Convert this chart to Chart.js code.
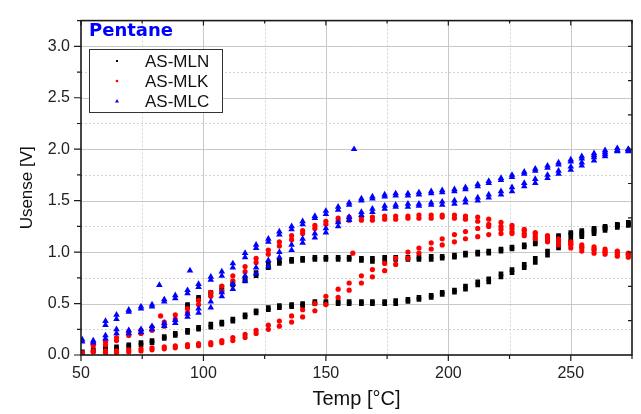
<!DOCTYPE html>
<html lang="en">
<head>
<meta charset="UTF-8">
<title>Pentane - Usense vs Temp</title>
<script src="https://cdn.jsdelivr.net/npm/chart.js"></script>
<style>
  html, body { margin: 0; padding: 0; background: #fff; }
  #wrap { width: 641px; height: 414px; position: relative; }
</style>
</head>
<body>
<div id="wrap"><canvas id="chart"></canvas></div>
<script>
// temperature steps of the sweep (°C)
const temps = [50.5, 55, 60, 64.5, 69.5, 74.5, 79, 84, 88.5, 93.5,
               98, 103, 107.5, 112, 117, 121.5, 126.5, 131, 136, 140.5,
               145.5, 150, 155, 159.5, 164.5, 169, 174, 178.5, 183.5, 188,
               193, 197.5, 202.5, 207, 212, 216.5, 221.5, 226, 231, 235.5,
               240.5, 245, 250, 254.5, 259.5, 264, 269, 273.5];

// AS-MLN, heating and cooling runs (V)
const mlnHeatA = [0.02, 0.04, 0.05, 0.06, 0.08, 0.10, 0.12, 0.16, 0.19, 0.22,
                  0.25, 0.27, 0.30, 0.33, 0.37, 0.41, 0.44, 0.46, 0.47, 0.48,
                  0.50, 0.50, 0.50, 0.50, 0.50, 0.50, 0.50, 0.50, 0.52, 0.54,
                  0.56, 0.59, 0.61, 0.64, 0.68, 0.71, 0.76, 0.80, 0.85, 0.90,
                  0.97, 1.04, 1.10, 1.15, 1.18, 1.21, 1.24, 1.26];
const mlnHeatB = [0.03, 0.05, 0.07, 0.08, 0.10, 0.12, 0.14, 0.18, 0.21, 0.24,
                  0.27, 0.30, 0.32, 0.35, 0.39, 0.43, 0.46, 0.48, 0.49, 0.50,
                  0.52, 0.52, 0.52, 0.52, 0.52, 0.52, 0.52, 0.53, 0.54, 0.56,
                  0.58, 0.61, 0.63, 0.67, 0.71, 0.74, 0.79, 0.83, 0.88, 0.94,
                  1.01, 1.08, 1.13, 1.17, 1.20, 1.23, 1.26, 1.28];
const mlnCoolA = [null, null, null, null, null, null, null, null, null, 0.47,
                  0.54, 0.59, 0.63, 0.68, 0.72, 0.77, 0.85, 0.89, 0.91, 0.92,
                  0.93, 0.93, 0.93, 0.93, 0.92, 0.91, 0.92, 0.93, 0.93, 0.93,
                  0.93, 0.94, 0.95, 0.97, 0.98, 0.99, 1.01, 1.03, 1.05, 1.08,
                  1.11, 1.14, 1.17, 1.19, 1.22, 1.24, 1.26, 1.27];
const mlnCoolB = [null, null, null, null, null, null, null, null, null, 0.49,
                  0.56, 0.61, 0.66, 0.70, 0.74, 0.80, 0.88, 0.91, 0.93, 0.94,
                  0.95, 0.95, 0.95, 0.95, 0.94, 0.94, 0.95, 0.95, 0.95, 0.95,
                  0.96, 0.96, 0.97, 0.99, 1.00, 1.01, 1.03, 1.05, 1.07, 1.10,
                  1.13, 1.16, 1.19, 1.21, 1.23, 1.25, 1.27, 1.29];

// AS-MLK
const mlkHeatA = [0.01, 0.03, 0.02, 0.02, 0.03, 0.04, 0.05, 0.06, 0.07, 0.08,
                  0.09, 0.10, 0.12, 0.14, 0.17, 0.21, 0.25, 0.28, 0.32, 0.37,
                  0.43, 0.49, 0.56, 0.63, 0.70, 0.76, 0.82, 0.88, 0.94, 0.99,
                  1.03, 1.07, 1.10, 1.13, 1.15, 1.17, 1.18, 1.18, 1.16, 1.13,
                  1.10, 1.07, 1.04, 1.01, 0.99, 0.98, 0.96, 0.95];
const mlkHeatB = [0.02, 0.04, 0.04, 0.04, 0.05, 0.06, 0.07, 0.08, 0.09, 0.10,
                  0.11, 0.12, 0.14, 0.17, 0.20, 0.24, 0.29, 0.33, 0.38, 0.44,
                  0.50, 0.57, 0.64, 0.70, 0.77, 0.83, 0.89, 0.94, 1.00, 1.04,
                  1.09, 1.13, 1.17, 1.20, 1.23, 1.25, 1.25, 1.23, 1.21, 1.18,
                  1.15, 1.11, 1.08, 1.05, 1.03, 1.01, 1.00, 0.98];
const mlkCoolA = [null, 0.09, 0.10, 0.14, 0.19, 0.21, 0.24, 0.28, 0.35, 0.41,
                  0.49, 0.57, 0.62, 0.72, 0.81, 0.90, 0.98, 1.06, 1.12, 1.18,
                  1.23, 1.27, 1.30, 1.31, 1.31, 1.31, 1.32, 1.32, 1.33, 1.33,
                  1.33, 1.34, 1.33, 1.32, 1.30, 1.27, 1.22, 1.20, 1.18, 1.15,
                  1.13, 1.10, 1.07, 1.04, 1.02, 1.00, 0.98, 0.97];
const mlkCoolB = [null, 0.11, 0.13, 0.17, 0.22, 0.24, 0.27, 0.32, 0.39, 0.45,
                  0.53, 0.61, 0.67, 0.77, 0.86, 0.94, 1.02, 1.10, 1.16, 1.21,
                  1.26, 1.30, 1.33, 1.34, 1.34, 1.34, 1.35, 1.35, 1.35, 1.36,
                  1.36, 1.36, 1.36, 1.35, 1.34, 1.32, 1.29, 1.26, 1.22, 1.19,
                  1.16, 1.13, 1.10, 1.07, 1.05, 1.03, 1.01, 0.99];

// AS-MLC
const mlcHeatA = [0.13, 0.12, 0.16, 0.21, 0.21, 0.22, 0.25, 0.28, 0.31, 0.37,
                  0.41, 0.46, 0.57, 0.64, 0.72, 0.79, 0.86, 0.95, 1.02, 1.09,
                  1.14, 1.19, 1.25, 1.31, 1.36, 1.39, 1.42, 1.44, 1.44, 1.45,
                  1.46, 1.46, 1.47, 1.48, 1.50, 1.53, 1.56, 1.59, 1.64, 1.67,
                  1.72, 1.76, 1.80, 1.84, 1.89, 1.93, 1.98, 1.99];
const mlcHeatB = [0.15, 0.14, 0.19, 0.25, 0.24, 0.25, 0.28, 0.31, 0.34, 0.40,
                  0.45, 0.52, 0.61, 0.69, 0.77, 0.85, 0.92, 1.00, 1.07, 1.13,
                  1.18, 1.23, 1.29, 1.34, 1.39, 1.42, 1.45, 1.46, 1.47, 1.47,
                  1.48, 1.49, 1.50, 1.51, 1.53, 1.56, 1.59, 1.63, 1.67, 1.71,
                  1.75, 1.79, 1.83, 1.87, 1.92, 1.95, 1.99, 2.00];
const mlcCoolA = [null, null, 0.29, 0.35, 0.42, 0.45, 0.47, 0.52, 0.55, 0.60,
                  0.66, 0.73, 0.77, 0.85, 0.95, 1.04, 1.10, 1.17, 1.22, 1.27,
                  1.33, 1.37, 1.41, 1.46, 1.50, 1.52, 1.54, 1.55, 1.55, 1.56,
                  1.57, 1.58, 1.59, 1.61, 1.64, 1.67, 1.70, 1.73, 1.76, 1.79,
                  1.82, 1.85, 1.88, 1.91, 1.94, 1.97, 1.99, 1.98];
const mlcCoolB = [null, null, 0.33, 0.39, 0.44, 0.47, 0.49, 0.54, 0.58, 0.63,
                  0.69, 0.76, 0.81, 0.89, 0.99, 1.07, 1.13, 1.20, 1.25, 1.30,
                  1.35, 1.40, 1.44, 1.48, 1.52, 1.54, 1.56, 1.57, 1.57, 1.58,
                  1.59, 1.60, 1.61, 1.63, 1.66, 1.69, 1.72, 1.75, 1.78, 1.81,
                  1.84, 1.87, 1.90, 1.93, 1.96, 1.99, 2.01, 2.00];

// single stray readings [temp, V]
const mlkStray = [[82.5, 0.38], [161, 0.99]];
const mlcStray = [[82, 0.68], [94.5, 0.82], [161.5, 2.0]];

const xTicksMajor = 50;     // labelled every 50 °C
const yTicksMajor = 0.5;    // labelled every 0.5 V

function toPoints(runs, stray) {
  const pts = [];
  runs.forEach(run => run.forEach((v, i) => {
    if (v !== null) pts.push({ x: temps[i], y: v });
  }));
  stray.forEach(p => pts.push({ x: p[0], y: p[1] }));
  return pts;
}

const series = [
  { label: 'AS-MLN', color: '#000000', style: 'rect', radius: 3.3,
    data: toPoints([mlnHeatA, mlnHeatB, mlnCoolA, mlnCoolB], []) },
  { label: 'AS-MLK', color: '#ff0000', style: 'circle', radius: 2.6,
    data: toPoints([mlkHeatA, mlkHeatB, mlkCoolA, mlkCoolB], mlkStray) },
  { label: 'AS-MLC', color: '#0000ff', style: 'triangle', radius: 3.8,
    data: toPoints([mlcHeatA, mlcHeatB, mlcCoolA, mlcCoolB], mlcStray) }
];

const FONT = "'Liberation Sans', Arial, sans-serif";

function isMult(v, step) {
  const r = v / step;
  return Math.abs(r - Math.round(r)) < 1e-6;
}

// grid, frame with tick marks, legend box and the "Pentane" heading
const framePlugin = {
  id: 'frame',
  beforeDatasetsDraw(chart) {
    const { ctx, chartArea: a, scales: { x, y } } = chart;
    ctx.save();
    ctx.lineWidth = 1;
    x.ticks.forEach(t => {
      const px = Math.round(x.getPixelForValue(t.value)) + 0.5;
      if (px <= a.left + 1 || px >= a.right - 1) return;
      const major = isMult(t.value, xTicksMajor);
      ctx.strokeStyle = major ? '#c8c8c8' : '#d4d4d4';
      ctx.setLineDash(major ? [] : [2, 2]);
      ctx.beginPath(); ctx.moveTo(px, a.top); ctx.lineTo(px, a.bottom); ctx.stroke();
    });
    y.ticks.forEach(t => {
      const py = Math.round(y.getPixelForValue(t.value)) + 0.5;
      if (py <= a.top + 1 || py >= a.bottom - 1) return;
      const major = isMult(t.value, yTicksMajor);
      ctx.strokeStyle = major ? '#c8c8c8' : '#d4d4d4';
      ctx.setLineDash(major ? [] : [2, 2]);
      ctx.beginPath(); ctx.moveTo(a.left, py); ctx.lineTo(a.right, py); ctx.stroke();
    });
    ctx.restore();
  },
  afterDatasetsDraw(chart) {
    const { ctx, chartArea: a, scales: { x, y } } = chart;
    ctx.save();
    ctx.strokeStyle = '#1a1a1a';
    ctx.lineWidth = 1.6;
    ctx.strokeRect(a.left, a.top, a.right - a.left, a.bottom - a.top);

    ctx.lineWidth = 1.2;
    ctx.beginPath();
    x.ticks.forEach(t => {
      const px = x.getPixelForValue(t.value);
      const major = isMult(t.value, xTicksMajor);
      ctx.moveTo(px, a.bottom); ctx.lineTo(px, a.bottom + (major ? 6 : 4));
      ctx.moveTo(px, a.top); ctx.lineTo(px, a.top + (major ? 5 : 3));
    });
    y.ticks.forEach(t => {
      const py = y.getPixelForValue(t.value);
      const major = isMult(t.value, yTicksMajor);
      ctx.moveTo(a.left, py); ctx.lineTo(a.left - (major ? 7 : 4), py);
    });
    // right-hand axis carries its own tick spacing
    for (let k = 1; k < 10; k++) {
      const py = y.getPixelForValue(k / 3);
      ctx.moveTo(a.right, py); ctx.lineTo(a.right - 4, py);
    }
    ctx.stroke();

    // legend
    const lx = 89.5, ly = 49.5, lw = 133, lh = 63;
    ctx.fillStyle = '#ffffff';
    ctx.fillRect(lx, ly, lw, lh);
    ctx.strokeStyle = '#333333';
    ctx.lineWidth = 1;
    ctx.strokeRect(lx, ly, lw, lh);
    ctx.font = '17px ' + FONT;
    ctx.textBaseline = 'middle';
    chart.data.datasets.forEach((ds, i) => {
      const ry = 61 + i * 20;
      ctx.fillStyle = ds.backgroundColor;
      if (ds.pointStyle === 'triangle') {
        ctx.beginPath();
        ctx.moveTo(117, ry - 2); ctx.lineTo(119, ry + 1.5); ctx.lineTo(115, ry + 1.5);
        ctx.closePath(); ctx.fill();
      } else if (ds.pointStyle === 'rect') {
        ctx.fillRect(116, ry - 1, 2, 2);
      } else {
        ctx.beginPath(); ctx.arc(117, ry, 1.3, 0, Math.PI * 2); ctx.fill();
      }
      ctx.fillStyle = '#111111';
      ctx.fillText(ds.label, 145, ry + 1);
    });

    ctx.fillStyle = '#0000ff';
    ctx.font = "bold 18px 'DejaVu Sans', " + FONT;
    ctx.textBaseline = 'middle';
    ctx.fillText('Pentane', 89, 31);
    ctx.restore();
  }
};

new Chart(document.getElementById('chart'), {
  type: 'scatter',
  data: {
    datasets: series.map((s, i) => ({
      label: s.label,
      data: s.data,
      pointStyle: s.style,
      pointRadius: s.radius,
      pointHoverRadius: s.radius,
      pointBorderWidth: 0,
      backgroundColor: s.color,
      borderColor: s.color,
      order: 2 - i
    }))
  },
  options: {
    responsive: true,
    maintainAspectRatio: false,
    devicePixelRatio: 1,
    animation: false,
    layout: { padding: { left: 0, right: 6, top: 15, bottom: 0 } },
    plugins: { legend: { display: false }, tooltip: { enabled: false } },
    scales: {
      x: {
        type: 'linear',
        min: 50, max: 275,
        afterFit: s => { s.height = 59; },
        grid: { display: false, drawTicks: false },
        border: { display: false },
        ticks: {
          stepSize: 25, autoSkip: false, maxRotation: 0, padding: 9,
          color: '#222', font: { family: FONT, size: 16 },
          callback: v => isMult(v, xTicksMajor) ? String(v) : ''
        },
        title: {
          display: true, text: 'Temp [°C]', color: '#111',
          font: { family: FONT, size: 20 }, padding: { top: 0, bottom: 3 }
        }
      },
      y: {
        type: 'linear',
        min: 0, max: 3.25,
        afterFit: s => { s.width = 81; },
        grid: { display: false, drawTicks: false },
        border: { display: false },
        ticks: {
          stepSize: 0.25, autoSkip: false, padding: 11,
          color: '#222', font: { family: FONT, size: 16 },
          callback: v => isMult(v, yTicksMajor) ? v.toFixed(1) : ''
        },
        title: {
          display: true, text: 'Usense [V]', color: '#111',
          font: { family: FONT, size: 17 }, padding: { top: 17, bottom: 0 }
        }
      }
    }
  },
  plugins: [framePlugin]
});
</script>
</body>
</html>
